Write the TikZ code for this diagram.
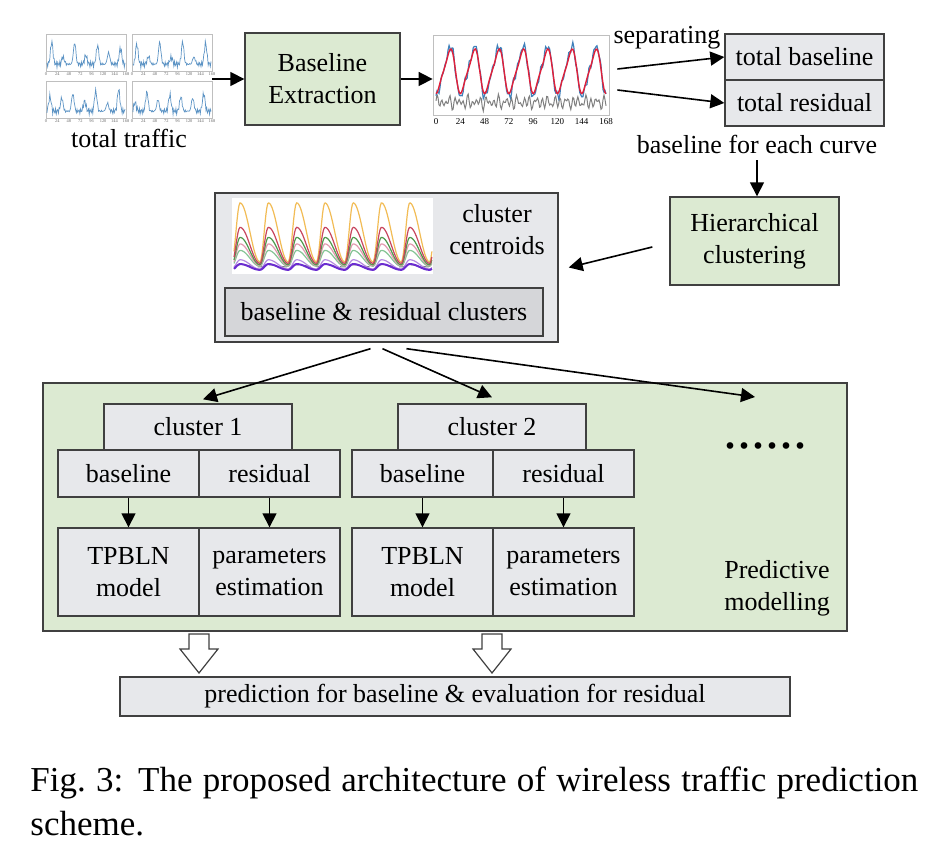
\documentclass[tikz,border=0pt]{standalone}
\usepackage{fontspec}
\setmainfont{Liberation Serif}
\usetikzlibrary{arrows.meta,positioning}

\definecolor{boxgreen}{HTML}{DCEAD2}
\definecolor{boxgray}{HTML}{E7E8EB}
\definecolor{innergray}{HTML}{D5D6D9}
\definecolor{trafblue}{HTML}{3F80BA}
\definecolor{basered}{HTML}{E0203A}
\definecolor{cyel}{HTML}{F2BC55}
\definecolor{cred}{HTML}{C8465E}
\definecolor{cgreen}{HTML}{4E9A4E}
\definecolor{cpink}{HTML}{E39AB0}
\definecolor{clgreen}{HTML}{86C495}
\definecolor{clav}{HTML}{B58AE0}
\definecolor{cpurple}{HTML}{6A2BD0}

\begin{document}
\begin{tikzpicture}[x=0.5pt, y=-0.5pt,
    font=\fontsize{13}{16}\selectfont,
    box/.style={draw=black!75, line width=0.7pt, fill=boxgray, inner sep=0pt, align=center},
    greenbox/.style={box, fill=boxgreen},
    arr/.style={-{Triangle[length=7pt,width=7pt]}, line width=0.8pt},
    frame/.style={draw=black!25, line width=0.4pt},
    ticklab/.style={font=\fontsize{4.5}{5}\selectfont, inner sep=0pt},
    tinylab/.style={font=\fontsize{2.2}{3}\selectfont, inner sep=0pt, text=black!60},
    declare function={cph(\t)=mod(\t+2,24)/24;
      hump(\t)=(cph(\t)<0.3)*(0.5-0.5*cos(600*cph(\t)))+(cph(\t)>=0.3)*(0.5+0.5*cos(180*(cph(\t)-0.3)/0.7));}]
    \useasboundingbox (0,0) rectangle (936,854);

    \node[inner sep=0pt, minimum width=83pt, minimum height=42pt] (traffic) at (129,76) {};
    \foreach \px/\py/\ph in {46/71/0,132/71/1,46/118/2,132/118/3} {
      \draw[frame] (\px,\py) rectangle ++(80,-37);
      \foreach \t in {0,24,...,168}
        \node[tinylab] at (\px+\t*0.476,\py+3) {\t};
      \begin{scope}[shift={(\px,\py)}, x=0.238pt, y=18.5pt]
        \draw[trafblue!85, line width=0.35pt, domain=2:166, samples=110]
          plot (\x,{0.12+0.6*(0.5+0.5*sin(15*\x-90+25*\ph))^4*(0.65+0.35*sin(7*\x+60*\ph))+0.1*abs(sin(47*\x+30*\ph))+0.04*sin(89*\x+50*\ph)});
      \end{scope}
    }
    \node[below=2pt of traffic] (traflab) {total traffic};

    \node[greenbox, minimum width=77.5pt, minimum height=46pt] (base) at (322.5,79) {Baseline\\Extraction};
    \node[frame, inner sep=0pt, minimum width=88pt, minimum height=40pt] (sepplot) at (521,75) {};
    \begin{scope}[shift={(436,112)}, x=0.506pt, y=37pt]
      \draw[gray, line width=0.5pt, domain=0:168, samples=170]
        plot (\x,{0.13+0.05*sin(83*\x)+0.04*sin(59*\x+30)+0.03*sin(37*\x)});
      \draw[trafblue, line width=0.6pt, domain=0:168, samples=170]
        plot (\x,{0.55+0.32*sin(15*\x-110)+0.06*sin(30*\x-40)+0.035*sin(91*\x)+0.03*sin(67*\x+20)});
      \draw[basered, line width=0.7pt, domain=0:168, samples=170]
        plot (\x,{0.55+0.28*sin(15*\x-110)+0.06*sin(30*\x-40)});
    \end{scope}
    \foreach \t in {0,24,...,168}
      \node[ticklab] at (436+\t*1.012,122) {\t};

    \node[box, minimum width=79.5pt, minimum height=23pt] (totbase) at (804.5,57) {total baseline};
    \node[box, minimum width=79.5pt, minimum height=23pt] (totres) at (804.5,103) {total residual};
    \node (seplab) at (667,38) {separating};
    \node (eachlab) at (757,144) {baseline for each curve};
    \node[greenbox, minimum width=84.5pt, minimum height=44pt] (hier) at (754.5,241) {Hierarchical\\clustering};

    \node[box, minimum width=171.5pt, minimum height=74.5pt] (cent) at (386.5,267.5) {};
    \fill[white] (232,198) rectangle (433,274);
    \begin{scope}[shift={(234,272)}, x=0.589pt, y=36pt]
      \draw[gray, dashed, line width=0.5pt, domain=0:168, samples=200] plot (\x,{0.07+0.03*hump(\x)});
      \foreach \cc/\bs/\am/\lw in {cyel/0.14/0.82/0.6, clav/0.04/0.13/0.6, clgreen/0.08/0.22/0.6,
          cpink/0.09/0.3/0.6, cgreen/0.1/0.38/0.6, cred/0.12/0.5/0.6, cpurple/0.03/0.08/1}
        \draw[\cc, line width=\lw pt, domain=0:168, samples=200] plot (\x,{\bs+\am*hump(\x)});
    \end{scope}
    \node[align=center] (centlab) at (497,230) {cluster\\centroids};
    \node[box, fill=innergray, minimum width=159pt, minimum height=24pt] (bcl) at (384,312) {baseline \& residual clusters};

    \node[greenbox, minimum width=402pt, minimum height=124pt] (pm) at (445,507) {};
    \foreach \gx/\n in {0/1,294/2} {
      \node[box, minimum width=94pt, minimum height=23pt] (clu\n) at (198+\gx,427) {cluster \n};
      \node[box, minimum width=70.5pt, minimum height=23.5pt] (bl\n) at (128.5+\gx,473.5) {baseline};
      \node[box, minimum width=70.5pt, minimum height=23.5pt] (res\n) at (269.5+\gx,473.5) {residual};
      \node[box, minimum width=70.5pt, minimum height=44pt] (mod\n) at (128.5+\gx,572) {TPBLN\\model};
      \node[box, minimum width=70.5pt, minimum height=44pt] (par\n) at (269.5+\gx,572) {parameters\\estimation};
      \draw[arr] (bl\n) -- (mod\n);
      \draw[arr] (res\n) -- (par\n);
    }
    \node[font=\fontsize{28}{28}\selectfont, inner sep=0pt] (dots) at (765,446) {......};
    \node[align=center] (pmlab) at (777,588) {Predictive\\modelling};
    \coordinate (more) at (755,397);

    \node[box, minimum width=335pt, minimum height=19.5pt] (pred) at (455,696.5) {prediction for baseline \& evaluation for residual};
    \foreach \hx in {199,492}
      \draw[black!75, line width=0.6pt, fill=white] (\hx-10,634) -- (\hx+10,634) -- (\hx+10,649) -- (\hx+19,649)
        -- (\hx,673) -- (\hx-19,649) -- (\hx-10,649) -- cycle;

    \draw[arr] (traffic.east |- base.west) -- (base.west);
    \draw[arr] (base.east) -- (base.east -| sepplot.west);
    \draw[arr] ([xshift=4pt,yshift=3pt]sepplot.east) -- (totbase.west);
    \draw[arr] ([xshift=4pt,yshift=-7.5pt]sepplot.east) -- (totres.west);
    \draw[arr] (eachlab.south) -- (eachlab.south |- hier.north);
    \draw[arr] ([xshift=-8.5pt,yshift=-3pt]hier.west) -- ([xshift=5pt]cent.east);
    \draw[arr] ([xshift=-8pt,yshift=-3pt]cent.south) -- ([xshift=2.5pt,yshift=2pt]clu1.north);
    \draw[arr] ([xshift=-2pt,yshift=-3pt]cent.south) -- ([yshift=3pt]clu2.north);
    \draw[arr] ([xshift=10pt,yshift=-3pt]cent.south) -- (more);

    \node[anchor=north west, text width=444pt, align=justify, inner sep=0pt,
      font=\fontsize{17.5}{22}\selectfont] (caption) at (30,766)
      {Fig.\ 3: The proposed architecture of wireless traffic prediction scheme.};
\end{tikzpicture}
\end{document}
